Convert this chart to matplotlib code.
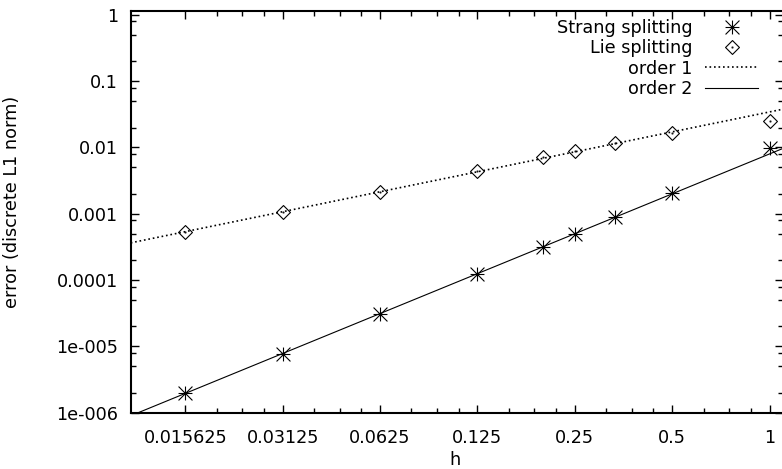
import numpy as np
import matplotlib
matplotlib.use("Agg")
import matplotlib.pyplot as plt
from matplotlib.path import Path

h = [1/64, 1/32, 1/16, 1/8, 1/5, 1/4, 1/3, 1/2, 1]
strang_err = [1.96e-6, 7.67e-6, 3.05e-5, 1.24e-4, 3.19e-4, 4.91e-4, 8.95e-4, 2.04e-3, 9.93e-3]
lie_err = [5.37e-4, 1.08e-3, 2.15e-3, 4.43e-3, 7.11e-3, 8.85e-3, 1.16e-2, 1.67e-2, 2.54e-2]

# reference slopes: c * h^p
order1_coef = 0.0344
order2_coef = 0.0080

xticks = [1/64, 1/32, 1/16, 1/8, 1/4, 1/2, 1]
xticklabels = ["0.015625", "0.03125", "0.0625", "0.125", "0.25", "0.5", "1"]
yticks = [1e-6, 1e-5, 1e-4, 1e-3, 1e-2, 1e-1, 1]
yticklabels = ["1e-006", "1e-005", "0.0001", "0.001", "0.01", "0.1", "1"]

xlim = (0.0106, 1.098)
ylim = (1e-6, 1.157)

FS = 12.7

# gnuplot-like markers: star (+ and x) and diamond with a centre dot
star = Path([(-1, 0), (1, 0), (0, -1), (0, 1), (-1, -1), (1, 1), (-1, 1), (1, -1)],
            [Path.MOVETO, Path.LINETO] * 4)
d = 0.06
diamond = Path([(0, 1), (1, 0), (0, -1), (-1, 0), (0, 1),
                (-d, -d), (d, -d), (d, d), (-d, d), (-d, -d)],
               [Path.MOVETO] + [Path.LINETO] * 3 + [Path.CLOSEPOLY] +
               [Path.MOVETO] + [Path.LINETO] * 3 + [Path.CLOSEPOLY])

fig = plt.figure(figsize=(7.82, 4.69), dpi=100)
ax = fig.add_axes([130.7 / 782, 56.3 / 469, 652 / 782, 402 / 469])

ax.plot(h, strang_err, linestyle="none", marker=star, ms=10, mew=0.8,
        color="black", fillstyle="none", label="Strang splitting")
ax.plot(h, lie_err, linestyle="none", marker=diamond, ms=10, mew=0.8,
        color="black", fillstyle="none", label="Lie splitting")

hh = np.geomspace(xlim[0], xlim[1], 200)
ax.plot(hh, order1_coef * hh, color="black", lw=1.2, linestyle=(0, (1, 1.7)),
        label="order 1")
ax.plot(hh, order2_coef * hh**2, color="black", lw=0.8, label="order 2")

ax.set_xscale("log")
ax.set_yscale("log")
ax.set_xlim(*xlim)
ax.set_ylim(*ylim)

ax.set_xticks(xticks)
ax.set_xticklabels(xticklabels, fontsize=FS)
ax.set_xticks([b * m for b in xticks for m in (1.25, 1.5, 1.75) if b * m < xlim[1]],
              minor=True)
ax.set_xticklabels([], minor=True)
ax.set_yticks(yticks)
ax.set_yticklabels(yticklabels, fontsize=FS)
ax.set_yticks([b * m for b in yticks for m in (2, 5, 8) if b * m < ylim[1]], minor=True)
ax.set_yticklabels([], minor=True)

ax.tick_params(which="both", direction="in", top=True, right=True, width=1.0)
ax.tick_params(which="major", length=5.5)
ax.tick_params(which="minor", length=3.5)
ax.tick_params(axis="x", which="major", pad=12)
ax.tick_params(axis="y", which="major", pad=9)

for side in ["left", "bottom", "top"]:
    ax.spines[side].set_linewidth(1.5)
ax.spines["right"].set_visible(False)

fig.text(455 / 782, 1 - 460 / 469, "h", fontsize=FS, ha="center", va="center")
fig.text(12 / 782, 1 - 202 / 469, "error (discrete L1 norm)", fontsize=FS,
         rotation=90, ha="center", va="center")

ax.legend(loc="upper right", markerfirst=False, frameon=False, fontsize=FS,
          handlelength=3.0, handletextpad=0.7, labelspacing=0.12,
          borderaxespad=0.0, bbox_to_anchor=(0.973, 0.996))

fig.savefig("out.png", dpi=100)
